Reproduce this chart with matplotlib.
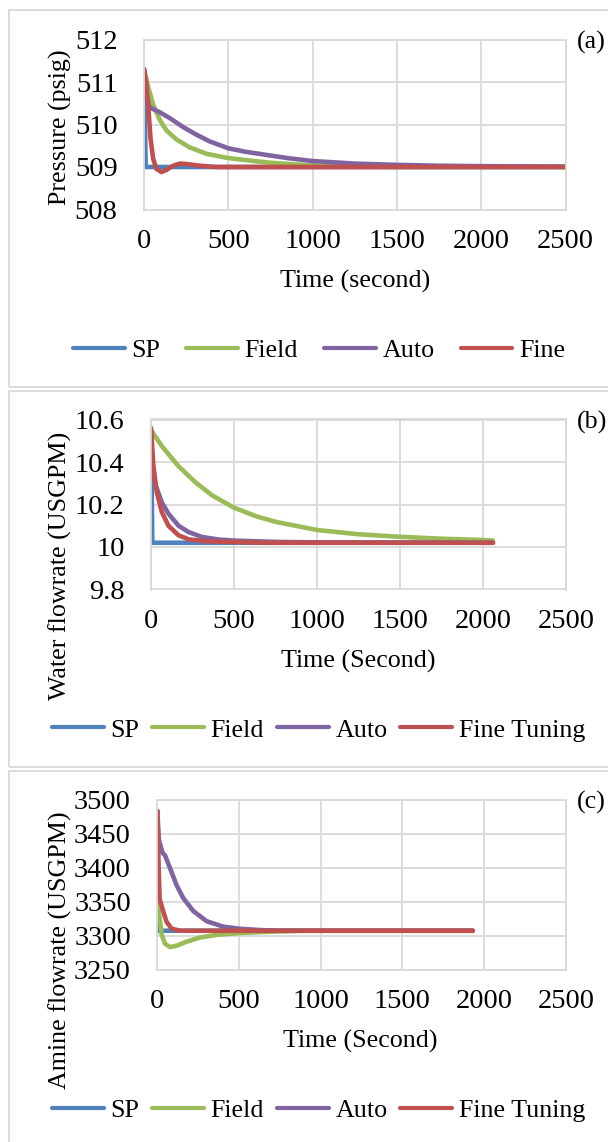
import matplotlib
matplotlib.use("Agg")
import matplotlib.pyplot as plt
from matplotlib.patches import Rectangle

plt.rcParams['font.family'] = ['Liberation Serif', 'DejaVu Serif']
plt.rcParams['font.size'] = 18.7

# ---- data ----
# (a) pressure
t_sp_a = [0, 10, 2500]
sp_a = [511.3, 509.0, 509.0]
t_field_a = [0, 24, 54, 93, 133, 192, 272, 371, 500, 629, 750, 900, 1000, 1200, 1500, 2500]
field_a = [511.3, 510.9, 510.47, 510.11, 509.86, 509.65, 509.46, 509.31, 509.21, 509.15,
           509.1, 509.06, 509.04, 509.02, 509.0, 509.0]
t_auto_a = [0, 15, 30, 50, 93, 153, 232, 311, 391, 500, 600, 700, 850, 1000, 1250, 1500,
            1750, 2000, 2500]
auto_a = [511.3, 510.75, 510.42, 510.37, 510.29, 510.15, 509.94, 509.76, 509.6, 509.44,
          509.36, 509.3, 509.21, 509.14, 509.08, 509.05, 509.03, 509.02, 509.01]
t_fine_a = [0, 12, 24, 38, 54, 73, 103, 133, 173, 212, 252, 331, 430, 2500]
fine_a = [511.3, 511.0, 510.5, 509.7, 509.2, 508.96, 508.88, 508.93, 509.03, 509.08,
          509.07, 509.03, 509.0, 509.0]

# (b) water flowrate
t_sp_b = [0, 8, 2060]
sp_b = [10.55, 10.02, 10.02]
t_field_b = [0, 65, 166, 267, 368, 500, 632, 753, 1000, 1250, 1500, 1750, 2000, 2060]
field_b = [10.55, 10.475, 10.38, 10.305, 10.243, 10.185, 10.145, 10.118, 10.08, 10.06,
           10.048, 10.039, 10.033, 10.03]
t_auto_b = [0, 10, 24, 65, 105, 166, 227, 308, 409, 500, 753, 1000, 2060]
auto_b = [10.55, 10.33, 10.30, 10.21, 10.157, 10.10, 10.07, 10.047, 10.035, 10.03,
          10.024, 10.022, 10.02]
t_fine_b = [0, 14, 34, 65, 105, 166, 227, 328, 470, 700, 2060]
fine_b = [10.56, 10.385, 10.26, 10.165, 10.10, 10.055, 10.036, 10.027, 10.024, 10.02, 10.02]

# (c) amine flowrate
t_sp_c = [0, 5, 1930]
sp_c = [3483, 3307, 3307]
t_field_c = [0, 12, 27, 47, 78, 118, 180, 261, 363, 500, 629, 751, 900, 1930]
field_c = [3359, 3330, 3301, 3288, 3283, 3285, 3291, 3297, 3301, 3303.5, 3305, 3306, 3307, 3307]
t_auto_c = [0, 10, 33, 47, 78, 118, 159, 220, 302, 404, 500, 629, 751, 900, 1930]
auto_c = [3483, 3440, 3421, 3418, 3399, 3374, 3355, 3336, 3321, 3313, 3310, 3308, 3307,
          3307, 3307]
t_fine_c = [0, 6, 14, 37, 57, 88, 139, 1930]
fine_c = [3483, 3420, 3354, 3335, 3320, 3310, 3307, 3307]

xticks = [0, 500, 1000, 1500, 2000, 2500]
yticks_a = [508, 509, 510, 511, 512]
ylabels_a = ['508', '509', '510', '511', '512']
yticks_b = [9.8, 10.0, 10.2, 10.4, 10.6]
ylabels_b = ['9.8', '10', '10.2', '10.4', '10.6']
yticks_c = [3250, 3300, 3350, 3400, 3450, 3500]
ylabels_c = ['3250', '3300', '3350', '3400', '3450', '3500']

colors = ['#4F81BD', '#9BBB59', '#8064A2', '#C0504D']
grid_col = '#d9d9d9'

W, H = 608, 1142
fig = plt.figure(figsize=(W / 100, H / 100), dpi=100)


def px_rect(l, r, t, b):
    return [l / W, 1 - b / H, (r - l) / W, (b - t) / H]


# panel frames
for top, bot in [(10, 387), (390.5, 767), (770.5, 1160)]:
    fig.patches.append(Rectangle((8.5 / W, 1 - bot / H), 1, (bot - top) / H,
                                 transform=fig.transFigure, fill=False,
                                 edgecolor=grid_col, lw=1.3))

panels = [
    dict(rect=(144, 565.5, 39.5, 209.5), series=[(t_sp_a, sp_a), (t_field_a, field_a),
                                                 (t_auto_a, auto_a), (t_fine_a, fine_a)],
         yt=yticks_a, yl=ylabels_a, ylabel='Pressure (psig)', ylab_y=127,
         xlabel='Time (second)', xlab=(355, 281), tag='(a)', tag_y=42,
         names=['SP', 'Field', 'Auto', 'Fine'], leg=(319, 350), colsp=1.0),
    dict(rect=(151, 566, 419.5, 589.5), series=[(t_sp_b, sp_b), (t_field_b, field_b),
                                                (t_auto_b, auto_b), (t_fine_b, fine_b)],
         yt=yticks_b, yl=ylabels_b, ylabel='Water flowrate (USGPM)', ylab_y=566,
         xlabel='Time (Second)', xlab=(358.5, 661), tag='(b)', tag_y=422,
         names=['SP', 'Field', 'Auto', 'Fine Tuning'], leg=(318.5, 730), colsp=0.5),
    dict(rect=(157.3, 565.8, 799.5, 969.5), series=[(t_sp_c, sp_c), (t_field_c, field_c),
                                                    (t_auto_c, auto_c), (t_fine_c, fine_c)],
         yt=yticks_c, yl=ylabels_c, ylabel='Amine flowrate (USGPM)', ylab_y=950,
         xlabel='Time (Second)', xlab=(360, 1041), tag='(c)', tag_y=802,
         names=['SP', 'Field', 'Auto', 'Fine Tuning'], leg=(318.5, 1110), colsp=0.5),
]

for p in panels:
    ax = fig.add_axes(px_rect(*p['rect']))
    handles = []
    for (t, v), c, n in zip(p['series'], colors, p['names']):
        h, = ax.plot(t, v, color=c, lw=3.3, solid_capstyle='round',
                     solid_joinstyle='round', label=n)
        handles.append(h)
    ax.set_xlim(0, 2500)
    ax.set_ylim(p['yt'][0], p['yt'][-1])
    ax.set_xticks(xticks)
    ax.set_yticks(p['yt'])
    ax.set_yticklabels(p['yl'])
    ax.grid(True, color=grid_col, lw=1.3)
    ax.set_axisbelow(True)
    for s in ax.spines.values():
        s.set_color(grid_col)
        s.set_linewidth(1.3)
    ax.tick_params(length=0, labelsize=20.5)
    ax.tick_params(axis='y', pad=19)
    ax.tick_params(axis='x', pad=14)

    fig.text(60 / W, 1 - p['ylab_y'] / H, p['ylabel'], rotation=90,
             ha='center', va='center')
    fig.text(p['xlab'][0] / W, 1 - p['xlab'][1] / H, p['xlabel'],
             ha='center', va='center')
    fig.text(577 / W, 1 - p['tag_y'] / H, p['tag'], ha='left', va='center')
    leg = fig.legend(handles=handles, loc='center', ncol=4, frameon=False,
                     bbox_to_anchor=(p['leg'][0] / W, 1 - p['leg'][1] / H),
                     handlelength=2.0, handletextpad=0.25, columnspacing=p['colsp'],
                     borderpad=0, borderaxespad=0)
    for ln in leg.get_lines():
        ln.set_linewidth(3.0)

fig.savefig('out.png', dpi=100)
